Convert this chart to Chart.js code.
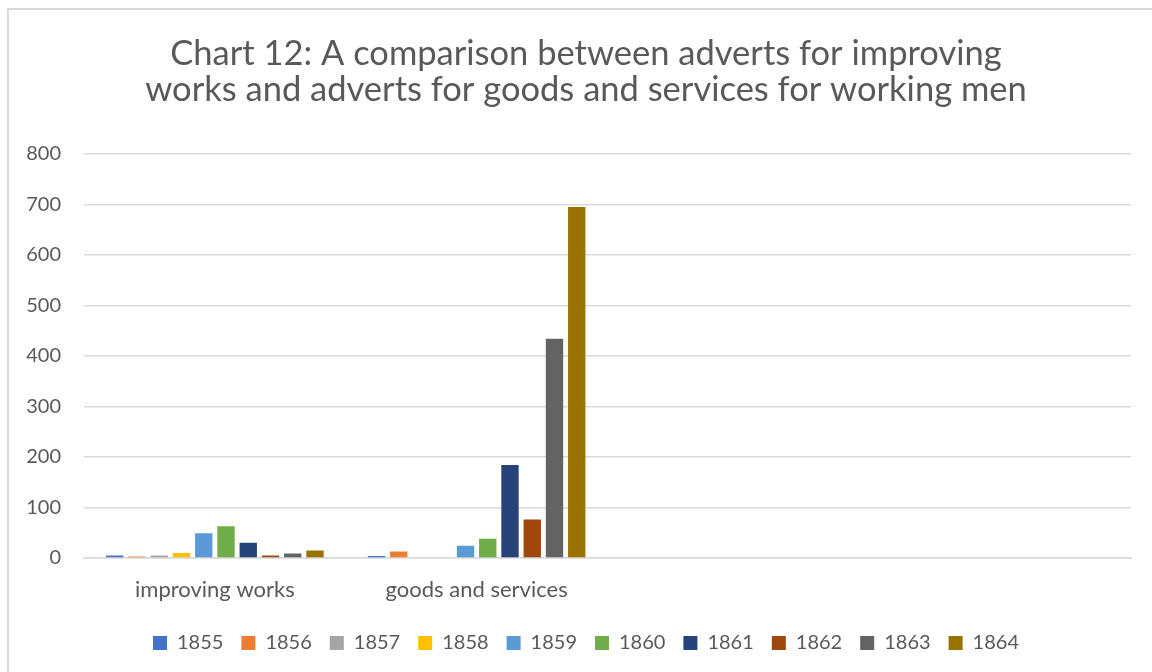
<!DOCTYPE html>
<html>
<head>
<meta charset="utf-8">
<script src="https://cdn.jsdelivr.net/npm/chart.js@4"></script>
<style>
	html, body { margin: 0; padding: 0; background: #fff; overflow: hidden; }
	#box {
		position: absolute; left: 7px; top: 8px;
		width: 1154px; height: 680px;
		border-left: 2px solid #d9d9d9; border-top: 2px solid #d9d9d9;
	}
</style>
</head>
<body>
<div id="box"><canvas id="myChart"></canvas></div>
<script>
// categories on the x axis (the last two are empty slots)
var categories = ['improving works', 'goods and services', '', ''];
var years = ['1855', '1856', '1857', '1858', '1859', '1860', '1861', '1862', '1863', '1864'];
// one value per year
var improvingWorks = [5, 3, 5, 10, 49, 63, 30, 5, 9, 15];
var goodsAndServices = [4, 13, 0, 0, 24, 38, 184, 76, 434, 695];
var yTicks = [0, 100, 200, 300, 400, 500, 600, 700, 800];

var colors = ['#4472C4', '#ED7D31', '#A5A5A5', '#FFC000', '#5B9BD5', '#70AD47', '#264478', '#9E480E', '#636363', '#997300'];
var fontFamily = 'Lato, "Open Sans", sans-serif';
var textColor = '#595959';

// centre title and legend on the whole canvas, not on the padded area
var fullWidthBlocks = {
	id: 'fullWidthBlocks',
	afterLayout: function (chart) {
		[chart.titleBlock, chart.legend].forEach(function (box) {
			if (box) {
				box.left = 0;
				box.right = chart.width;
			}
		});
	}
};

document.addEventListener("DOMContentLoaded", function (event) {
	var datasets = years.map(function (year, i) {
		return {
			label: year,
			data: [improvingWorks[i], goodsAndServices[i], null, null],
			backgroundColor: colors[i],
			borderWidth: 0,
			categoryPercentage: 0.85,
			barPercentage: 0.78
		};
	});

	var ctx = document.getElementById('myChart');
	var myChart = new Chart(ctx, {
		type: 'bar',
		data: {
			labels: categories,
			datasets: datasets
		},
		plugins: [fullWidthBlocks],
		options: {
			responsive: true,
			maintainAspectRatio: false,
			animation: false,
			layout: {
				padding: { top: 0, left: 0, right: 32, bottom: 27 }
			},
			scales: {
				x: {
					grid: { display: false, drawTicks: false },
					border: { display: true, color: '#d9d9d9', width: 1.5 },
					ticks: {
						color: textColor,
						padding: 19,
						maxRotation: 0,
						font: { family: fontFamily, size: 22 }
					},
					afterFit: function (scale) { scale.height = 57; }
				},
				y: {
					min: 0,
					max: yTicks[yTicks.length - 1],
					afterBuildTicks: function (scale) {
						scale.ticks = yTicks.map(function (v) { return { value: v }; });
					},
					grid: { color: '#d9d9d9', lineWidth: 1.5, drawTicks: false },
					border: { display: false },
					ticks: {
						color: textColor,
						padding: 23,
						font: { family: fontFamily, size: 20 }
					},
					afterFit: function (scale) { scale.width = 75; }
				}
			},
			plugins: {
				title: {
					display: true,
					text: ['Chart 12: A comparison between adverts for improving', 'works and adverts for goods and services for working men'],
					color: textColor,
					font: { family: fontFamily, size: 34.5, weight: 'normal', lineHeight: 1.07 },
					padding: { top: 25, bottom: 45 }
				},
				legend: {
					position: 'bottom',
					labels: {
						color: textColor,
						boxWidth: 14,
						boxHeight: 14,
						padding: 18,
						font: { family: fontFamily, size: 20 }
					}
				},
				tooltip: { enabled: false }
			}
		}
	});
});
</script>
</body>
</html>
